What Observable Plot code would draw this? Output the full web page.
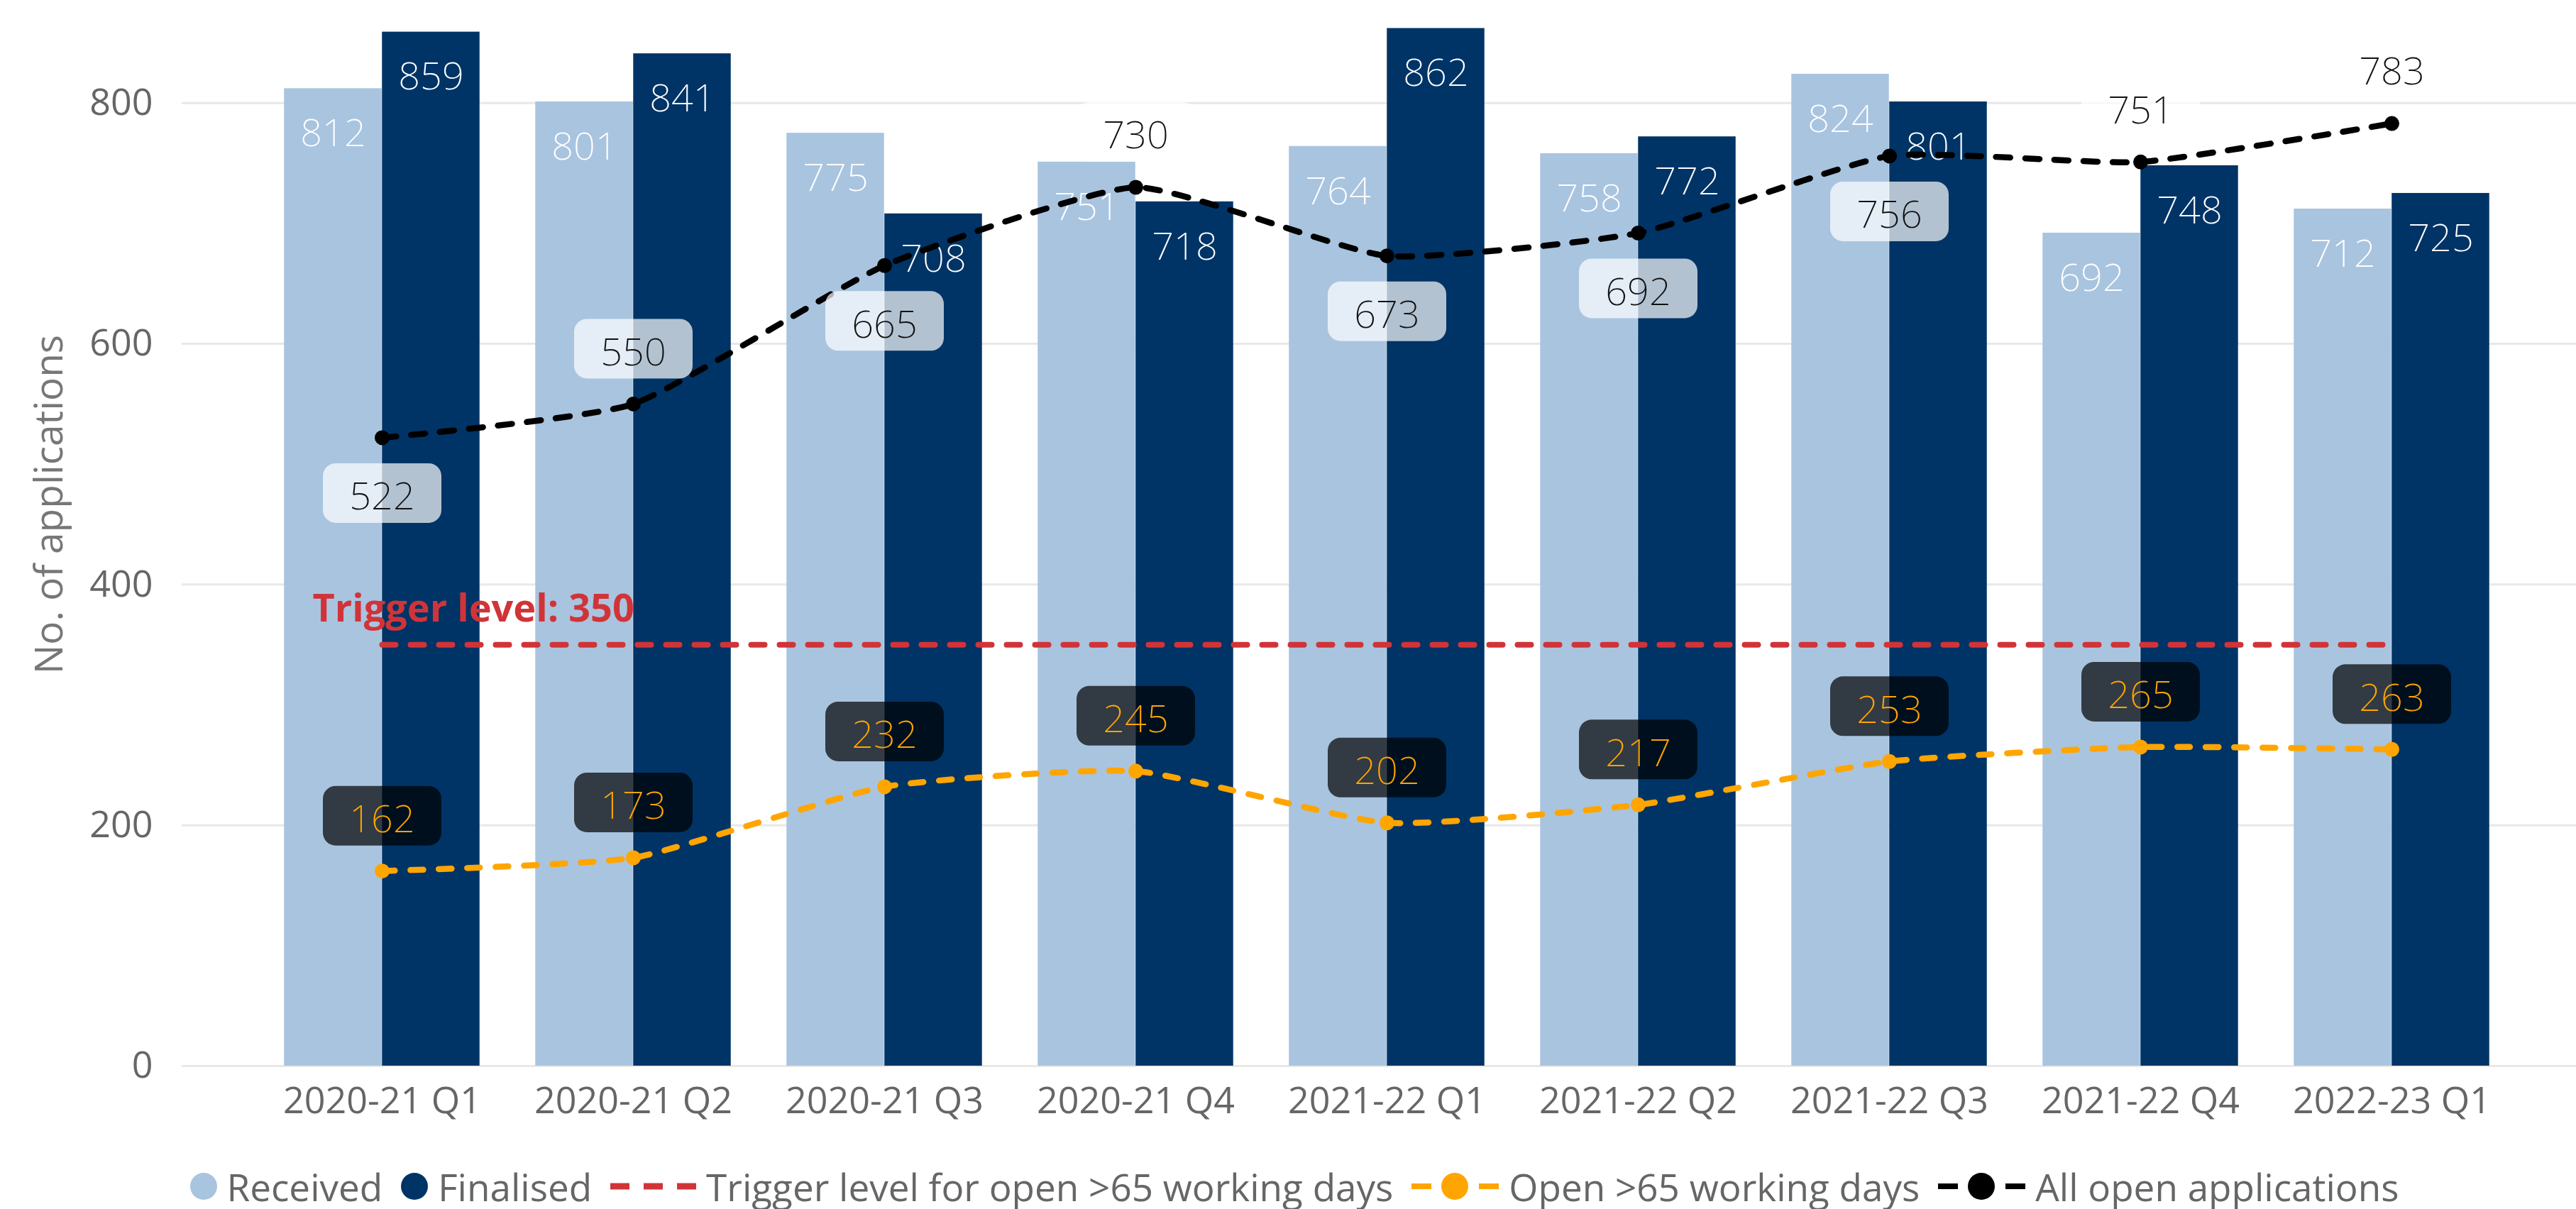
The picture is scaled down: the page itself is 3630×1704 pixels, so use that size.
<!DOCTYPE html>
<html>
<head>
<meta charset="utf-8">
<script src="https://cdn.jsdelivr.net/npm/d3@7"></script>
<script src="https://cdn.jsdelivr.net/npm/@observablehq/plot@0.6"></script>
<style>
  body { margin: 0; background: #fff; font-family: "Open Sans", "Noto Sans", sans-serif; }
  #legend { display: flex; justify-content: center; align-items: center; height: 124px; font-size: 53px; color: #666; white-space: nowrap; padding-left: 44px; }
  .item { display: flex; align-items: center; margin-right: 26px; }
  .item svg { margin-right: 14px; display: block; }
</style>
</head>
<body>
<div id="chart"></div>
<div id="legend"></div>
<script>
// ---- Data ----
const quarters = ["2020-21 Q1", "2020-21 Q2", "2020-21 Q3", "2020-21 Q4", "2021-22 Q1", "2021-22 Q2", "2021-22 Q3", "2021-22 Q4", "2022-23 Q1"];
const received = [812, 801, 775, 751, 764, 758, 824, 692, 712];
const finalised = [859, 841, 708, 718, 862, 772, 801, 748, 725];
const openOver65 = [162, 173, 232, 245, 202, 217, 253, 265, 263];
const allOpen = [522, 550, 665, 730, 673, 692, 756, 751, 783];
const triggerLevel = 350;
const yTicks = [0, 200, 400, 600, 800];
const allOpenLabelAbove = ["2020-21 Q2", "2020-21 Q4", "2021-22 Q4", "2022-23 Q1"];
const seriesNames = ["Received", "Finalised", "Trigger level for open >65 working days", "Open >65 working days", "All open applications"];

// ---- Styles ----
const C = { received: "#A9C4DF", finalised: "#003466", trigger: "#D13438", open65: "#FFA500", all: "#000000", grid: "#E8E8E8", text: "#666666" };
const W = 3630, H = 1610;
const marginLeft = 256, marginRight = 0, marginTop = 9, marginBottom = 108;
const paddingOuter = 0.2585, align = 0.56;
const bandwidth = (W - marginLeft - marginRight) / (quarters.length + 2 * paddingOuter);
const barWidth = 138;
const font = "'Open Sans', 'Noto Sans', sans-serif";
const lightFont = "'Noto Sans', 'Open Sans', sans-serif";

const rows = quarters.map((q, i) => ({ q, received: received[i], finalised: finalised[i], open65: openOver65[i], allOpen: allOpen[i] }));
const above = new Set(allOpenLabelAbove);

function roundRect(w, h, r) {
  return {
    draw(ctx) {
      const x = -w / 2, y = -h / 2;
      ctx.moveTo(x + r, y);
      ctx.lineTo(x + w - r, y);
      ctx.arcTo(x + w, y, x + w, y + r, r);
      ctx.lineTo(x + w, y + h - r);
      ctx.arcTo(x + w, y + h, x + w - r, y + h, r);
      ctx.lineTo(x + r, y + h);
      ctx.arcTo(x, y + h, x, y + h - r, r);
      ctx.lineTo(x, y + r);
      ctx.arcTo(x, y, x + r, y, r);
      ctx.closePath();
    }
  };
}
const box = roundRect(167, 84, 18);
const boxOffset = 78, textShift = 6, labelSize = 54;
const lbl = { fontSize: labelSize, fontWeight: 200, fontFamily: lightFont };

const chart = Plot.plot({
  width: W, height: H,
  marginLeft, marginRight, marginTop, marginBottom,
  style: { fontFamily: font, background: "white", color: C.text, overflow: "visible" },
  x: { type: "band", domain: quarters, paddingInner: 0, paddingOuter, align, label: null },
  y: { domain: [0, 880], label: null },
  marks: [
    Plot.gridY(yTicks, { stroke: C.grid, strokeOpacity: 1, strokeWidth: 3 }),
    Plot.axisY(yTicks, { tickSize: 0, tickPadding: 41, fontSize: 52, label: null }),
    Plot.axisX({ tickSize: 0, tickPadding: 30, fontSize: 52, label: null }),
    Plot.text(["No. of applications"], { frameAnchor: "left", textAnchor: "middle", rotate: -90, dx: -186, dy: -45, fontSize: 55, fill: "#777" }),
    Plot.barY(rows, { x: "q", y: "received", fill: C.received, insetLeft: bandwidth / 2 - barWidth, insetRight: bandwidth / 2 }),
    Plot.barY(rows, { x: "q", y: "finalised", fill: C.finalised, insetLeft: bandwidth / 2, insetRight: bandwidth / 2 - barWidth }),
    Plot.text(rows, { x: "q", y: "received", text: d => String(d.received), dx: -barWidth / 2, dy: 64, fill: "white", ...lbl }),
    Plot.text(rows, { x: "q", y: "finalised", text: d => String(d.finalised), dx: barWidth / 2, dy: 64, fill: "white", ...lbl }),
    Plot.line(quarters, { x: d => d, y: () => triggerLevel, stroke: C.trigger, strokeWidth: 8, strokeDasharray: "19,21", strokeLinecap: "round" }),
    Plot.text([`Trigger level: ${triggerLevel}`], { x: () => quarters[0], y: () => triggerLevel, textAnchor: "start", dx: -98, dy: -50, fill: C.trigger, fontSize: 54, fontWeight: "bold" }),
    Plot.line(rows, { x: "q", y: "open65", stroke: C.open65, strokeWidth: 8.5, strokeDasharray: "18,22", strokeLinecap: "round", curve: "cardinal", tension: 0.5 }),
    Plot.dot(rows, { x: "q", y: "open65", fill: C.open65, r: 10.5, stroke: "none" }),
    Plot.line(rows, { x: "q", y: "allOpen", stroke: C.all, strokeWidth: 8.5, strokeDasharray: "20,21", strokeLinecap: "round", curve: "cardinal", tension: 0.5 }),
    Plot.dot(rows, { x: "q", y: "allOpen", fill: C.all, r: 10.5, stroke: "none" }),
    // All open labels
    Plot.dot(rows.filter(d => !above.has(d.q)), { x: "q", y: "allOpen", symbol: box, fill: "white", fillOpacity: 0.7, stroke: "none", dy: boxOffset }),
    Plot.dot(rows.filter(d => above.has(d.q)), { x: "q", y: "allOpen", symbol: box, fill: "white", fillOpacity: 0.7, stroke: "none", dy: -boxOffset }),
    Plot.text(rows.filter(d => !above.has(d.q)), { x: "q", y: "allOpen", text: d => String(d.allOpen), dy: boxOffset + textShift, fill: "#111", ...lbl }),
    Plot.text(rows.filter(d => above.has(d.q)), { x: "q", y: "allOpen", text: d => String(d.allOpen), dy: -boxOffset + textShift, fill: "#111", ...lbl }),
    // Open >65 labels
    Plot.dot(rows, { x: "q", y: "open65", symbol: box, fill: "black", fillOpacity: 0.7, stroke: "none", dy: -boxOffset }),
    Plot.text(rows, { x: "q", y: "open65", text: d => String(d.open65), dy: -boxOffset + textShift, fill: C.open65, ...lbl })
  ]
});
document.getElementById("chart").appendChild(chart);

// ---- Legend ----
const legend = d3.select("#legend");
function item(name, draw, w) {
  const it = legend.append("div").attr("class", "item");
  const svg = it.append("svg").attr("width", w).attr("height", 40);
  draw(svg);
  it.append("span").text(name);
}
const circleMarker = color => svg => svg.append("circle").attr("cx", 19).attr("cy", 20).attr("r", 19).attr("fill", color);
const lineDotMarker = color => svg => {
  svg.append("rect").attr("x", 0).attr("y", 16).attr("width", 28).attr("height", 8).attr("fill", color);
  svg.append("circle").attr("cx", 61).attr("cy", 20).attr("r", 19).attr("fill", color);
  svg.append("rect").attr("x", 95).attr("y", 16).attr("width", 28).attr("height", 8).attr("fill", color);
};
item(seriesNames[0], circleMarker(C.received), 38);
item(seriesNames[1], circleMarker(C.finalised), 38);
item(seriesNames[2], svg => {
  [0, 47, 94].forEach(x => svg.append("rect").attr("x", x).attr("y", 15.5).attr("width", 27).attr("height", 9).attr("fill", C.trigger));
}, 121);
item(seriesNames[3], lineDotMarker(C.open65), 123);
item(seriesNames[4], lineDotMarker(C.all), 123);
</script>
</body>
</html>
